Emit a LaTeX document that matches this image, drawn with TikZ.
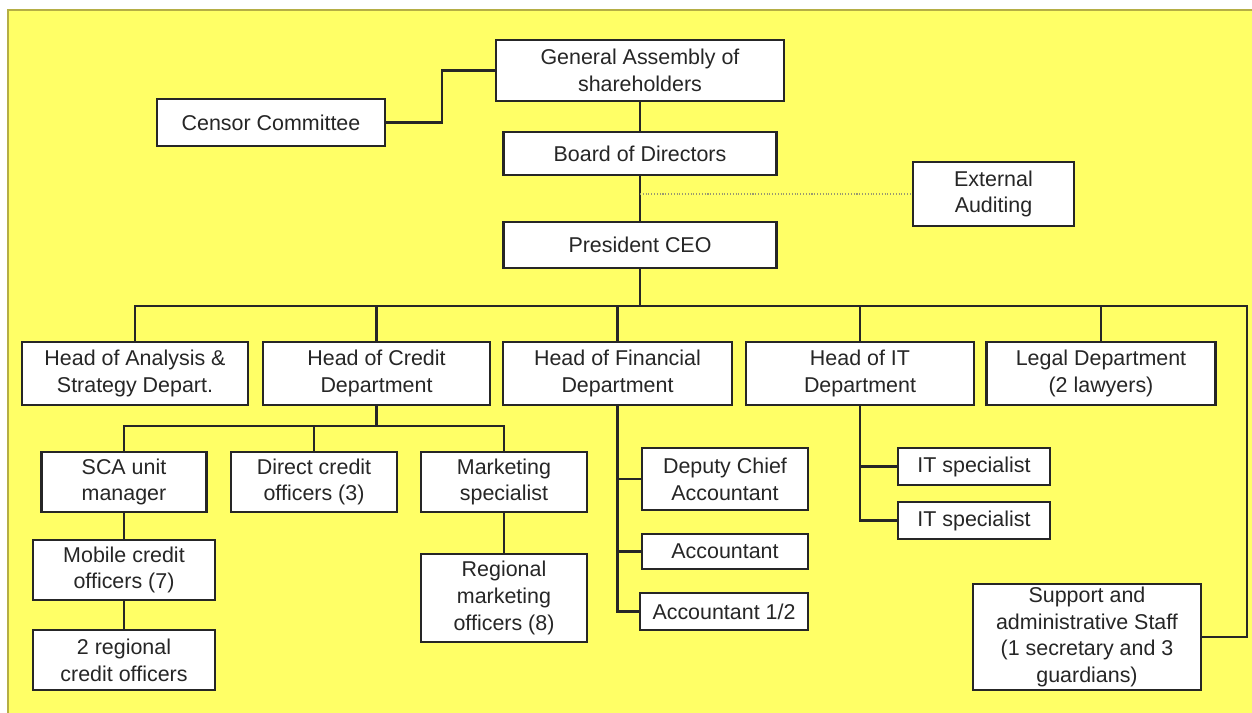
\documentclass[tikz,border=0pt]{standalone}
\usepackage{fontspec}
\setmainfont{Liberation Sans}
\usepackage{xcolor}
\definecolor{chartyellow}{HTML}{FFFF66}
\definecolor{chartedge}{HTML}{B5AE45}
\definecolor{chartgrey}{HTML}{9A9A70}

\begin{document}
\begin{tikzpicture}[x=0.02cm, y=-0.02cm,
  every node/.style={font=\fontsize{12.2}{15.2}\selectfont, text=black!85},
  unit/.style 2 args={draw=black!85, fill=white, line width=1.4pt, align=center, inner sep=1pt,
    minimum width=#1*0.02cm, minimum height=#2*0.02cm},
  link/.style={draw=black!85, line width=1.4pt},
  audit/.style={draw=chartgrey, line width=0.6pt, densely dotted}]
  \useasboundingbox (0,0) rectangle (1252,713);
  \fill[chartyellow] (8,10) rectangle (1252,713);
  \draw[chartedge, line width=1.2pt] (8,713) -- (8,10) -- (1252,10);

  % top of the chart
  \node[unit={288}{61}] (assembly) at (640,70.5) {General Assembly of\\shareholders};
  \node[unit={228}{47}] (censor) at (271,122.5) {Censor Committee};
  \node[unit={273}{43}] (board) at (640,153.5) {Board of Directors};
  \node[unit={161}{64}] (external) at (993.5,194) {External\\Auditing};
  \node[unit={273}{46}] (president) at (640,245) {President CEO};

  % heads of departments
  \node[unit={226}{63}] (analysis) at (135,373.5) {Head of Analysis \&\\Strategy Depart.};
  \node[unit={227}{63}] (credit) at (376.5,373.5) {Head of Credit\\Department};
  \node[unit={229}{63}] (financial) at (617.5,373.5) {Head of Financial\\Department};
  \node[unit={228}{63}] (itdept) at (860,373.5) {Head of IT\\Department};
  \node[unit={229}{63}] (legal) at (1101,373.5) {Legal Department\\(2 lawyers)};

  % credit department
  \node[unit={165}{60}] (sca) at (124,482) {SCA unit\\manager};
  \node[unit={166}{60}] (direct) at (314,482) {Direct credit\\officers (3)};
  \node[unit={166}{60}] (marketing) at (504,482) {Marketing\\specialist};
  \node[unit={182}{60}] (mobile) at (124,570) {Mobile credit\\officers (7)};
  \node[unit={182}{60}] (regcredit) at (124,660) {2 regional\\credit officers};
  \node[unit={166}{88}] (regmarketing) at (504,598) {Regional\\marketing\\officers (8)};

  % financial and IT staff
  \node[unit={166}{62}] (deputy) at (725,479) {Deputy Chief\\Accountant};
  \node[unit={166}{35}] (accountant) at (725,551.5) {Accountant};
  \node[unit={168}{37}] (halfaccountant) at (724,611.5) {Accountant 1/2};
  \node[unit={152}{37}] (itspec1) at (974,466.5) {IT specialist};
  \node[unit={152}{37}] (itspec2) at (974,520.5) {IT specialist};
  \node[unit={228}{106}] (support) at (1087,637) {Support and\\administrative Staff\\(1 secretary and 3\\guardians)};

  \coordinate (auditjoin) at (640,194);
  \coordinate (bus) at (640,306);
  \coordinate (busend) at (1247,306);
  \coordinate (creditbus) at (376.5,426);

  \draw[link] (censor.east) -- ++(56,0) |- (assembly.west);
  \draw[link] (assembly) -- (board);
  \draw[link] (board) -- (president);
  \draw[audit] (auditjoin) -- (external.west);
  \draw[link] (president.south) -- (bus);
  \foreach \head in {analysis, credit, financial, itdept, legal}
    \draw[link] (bus) -| (\head.north);
  \draw[link] (bus) -- (busend) |- (support.east);

  \draw[link] (credit.south) -- (creditbus);
  \foreach \staff in {sca, direct, marketing}
    \draw[link] (creditbus) -| (\staff.north);
  \draw[link] (sca) -- (mobile);
  \draw[link] (mobile) -- (regcredit);
  \draw[link] (marketing) -- (regmarketing);

  \foreach \staff in {deputy, accountant, halfaccountant}
    \draw[link] (financial.south) |- (\staff.west);
  \foreach \staff in {itspec1, itspec2}
    \draw[link] (itdept.south) |- (\staff.west);
\end{tikzpicture}
\end{document}
